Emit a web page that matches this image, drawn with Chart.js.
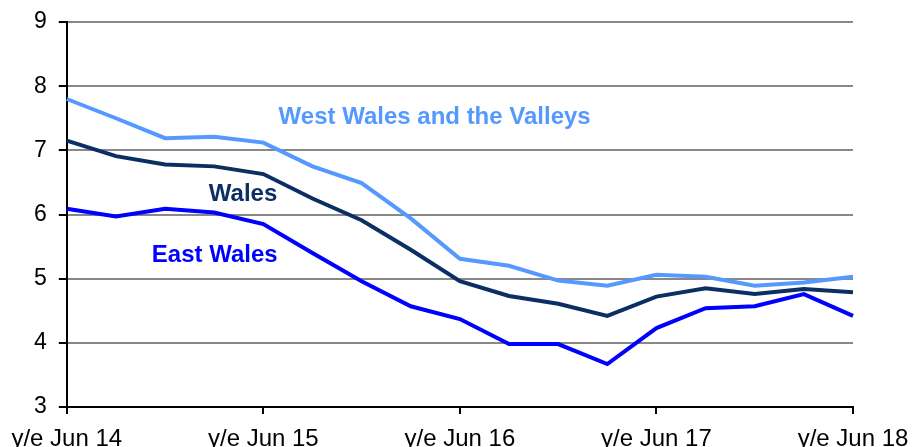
<!DOCTYPE html>
<html>
<head>
<meta charset="utf-8">
<script src="https://cdn.jsdelivr.net/npm/chart.js@4/dist/chart.umd.min.js"></script>
<style>
  html, body { margin: 0; padding: 0; background: #fff; }
  #wrap { width: 914px; height: 447px; }
</style>
</head>
<body>
<div id="wrap"><canvas id="chart" width="914" height="447"></canvas></div>
<script>
// quarterly periods, y/e Jun 14 .. y/e Jun 18
var labels = ['y/e Jun 14', 'y/e Sep 14', 'y/e Dec 14', 'y/e Mar 15',
              'y/e Jun 15', 'y/e Sep 15', 'y/e Dec 15', 'y/e Mar 16',
              'y/e Jun 16', 'y/e Sep 16', 'y/e Dec 16', 'y/e Mar 17',
              'y/e Jun 17', 'y/e Sep 17', 'y/e Dec 17', 'y/e Mar 18',
              'y/e Jun 18'];

var westWales = [7.80, 7.50, 7.19, 7.21, 7.12, 6.75, 6.49, 5.94, 5.31,
                 5.20, 4.97, 4.89, 5.06, 5.03, 4.89, 4.94, 5.03];
var wales     = [7.15, 6.91, 6.78, 6.75, 6.63, 6.25, 5.91, 5.45, 4.96,
                 4.73, 4.61, 4.42, 4.72, 4.85, 4.76, 4.84, 4.79];
var eastWales = [6.09, 5.97, 6.09, 6.03, 5.85, 5.40, 4.96, 4.57, 4.37,
                 3.98, 3.98, 3.67, 4.23, 4.54, 4.57, 4.76, 4.42];

var yTicks = [3, 4, 5, 6, 7, 8, 9];

// series names written on the plot, anchored in data coordinates
var notes = [
  { text: 'West Wales and the Valleys', x: 4.31, y: 7.41, color: '#5599ff' },
  { text: 'Wales', x: 2.89, y: 6.21, color: '#0b2f62' },
  { text: 'East Wales', x: 1.73, y: 5.26, color: '#0000ff' }
];

var notePlugin = {
  id: 'notes',
  afterDatasetsDraw: function (chart) {
    var c = chart.ctx;
    var xs = chart.scales.x, ys = chart.scales.y;
    c.save();
    c.font = 'bold 24px "Liberation Sans", Arial, sans-serif';
    c.textAlign = 'left';
    c.textBaseline = 'alphabetic';
    notes.forEach(function (n) {
      var i0 = Math.floor(n.x);
      var px = xs.getPixelForValue(i0) + (n.x - i0) * (xs.getPixelForValue(1) - xs.getPixelForValue(0));
      c.fillStyle = n.color;
      c.fillText(n.text, px, ys.getPixelForValue(n.y));
    });
    c.restore();
  }
};

function line(label, data, color) {
  return {
    label: label,
    data: data,
    borderColor: color,
    backgroundColor: color,
    borderWidth: 4,
    pointRadius: 0,
    tension: 0,
    fill: false
  };
}

new Chart(document.getElementById('chart').getContext('2d'), {
  type: 'line',
  data: {
    labels: labels,
    datasets: [
      line('West Wales and the Valleys', westWales, '#5599ff'),
      line('Wales', wales, '#0b2f62'),
      line('East Wales', eastWales, '#0000ff')
    ]
  },
  options: {
    responsive: false,
    animation: false,
    layout: { padding: { left: 22, right: 0, top: 0, bottom: 0 } },
    plugins: { legend: { display: false }, tooltip: { enabled: false } },
    scales: {
      x: {
        offset: false,
        afterFit: function (axis) {
          axis.height = 40;
          axis.paddingRight = 61;
        },
        grid: {
          drawOnChartArea: false,
          tickLength: 7,
          lineWidth: 2,
          tickColor: function (ctx) { return ctx.index % 4 === 0 ? '#000' : 'rgba(0,0,0,0)'; }
        },
        border: { color: '#000', width: 2 },
        ticks: {
          autoSkip: false,
          maxRotation: 0,
          padding: 11,
          color: '#000',
          font: { family: '"Liberation Sans", Arial, sans-serif', size: 24 },
          callback: function (v, i) { return i % 4 === 0 ? labels[i] : ''; }
        }
      },
      y: {
        min: 3,
        max: 9,
        afterFit: function (axis) { axis.paddingTop = 22; },
        afterBuildTicks: function (axis) {
          axis.ticks = yTicks.map(function (v) { return { value: v }; });
        },
        grid: {
          color: '#888',
          lineWidth: 2,
          tickLength: 8,
          tickColor: '#000'
        },
        border: { color: '#000', width: 2 },
        ticks: {
          padding: 12,
          color: '#000',
          font: { family: '"Liberation Sans", Arial, sans-serif', size: 23 }
        }
      }
    }
  },
  plugins: [notePlugin]
});
</script>
</body>
</html>
